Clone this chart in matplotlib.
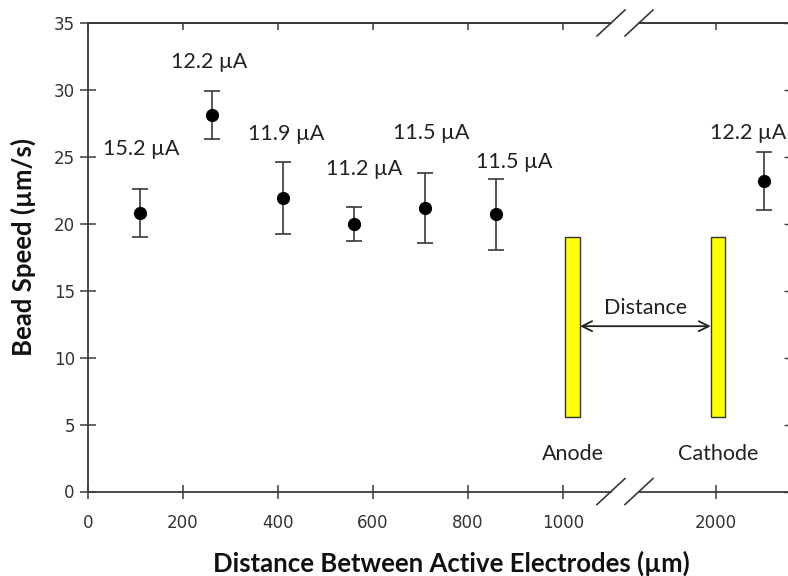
import matplotlib
matplotlib.use("Agg")
import matplotlib.pyplot as plt
from matplotlib.patches import Rectangle, ConnectionPatch

# ----- data -----
distance = [110, 260, 410, 560, 710, 860, 2100]          # um
speed = [20.8, 28.1, 21.9, 20.0, 21.2, 20.7, 23.2]       # um/s
speed_err = [1.8, 1.8, 2.7, 1.25, 2.6, 2.65, 2.2]
current = ["15.2 µA", "12.2 µA", "11.9 µA", "11.2 µA", "11.5 µA", "11.5 µA", "12.2 µA"]

# label positions (data coords), picked by eye
label_x = [112, 255, 418, 582, 722, 897, 2068]
label_y = [25.6, 32.1, 26.7, 24.1, 26.8, 24.6, 26.8]

xticks_left = [0, 200, 400, 600, 800, 1000]
xticks_right = [2000]
yticks = [0, 5, 10, 15, 20, 25, 30, 35]

W, H = 788, 576
GRAY = "#3a3a3a"
LABEL_FONT = ["Lato", "DejaVu Sans"]
ANN_SIZE = 15.5

plt.rcParams["font.family"] = "DejaVu Sans"
plt.rcParams["font.size"] = 12

fig = plt.figure(figsize=(W / 100, H / 100), dpi=100)


def px_box(x0, y0, x1, y1):
    # pixel box (top-left origin) -> figure fraction rect
    return [x0 / W, 1 - y1 / H, (x1 - x0) / W, (y1 - y0) / H]


ax1 = fig.add_axes(px_box(88, 23, 611, 491.5))
ax2 = fig.add_axes(px_box(639, 23, 790, 491.5), sharey=ax1)

ax1.set_xlim(0, (611 - 88) / 0.475)
ax2.set_xlim(2000 - (716 - 639) / 0.475, 2000 + (790 - 716) / 0.475)
ax1.set_ylim(0, 35)

for ax, ticks in ((ax1, xticks_left), (ax2, xticks_right)):
    for s in ax.spines.values():
        s.set_color(GRAY)
        s.set_linewidth(1.3)
    ax.errorbar(distance, speed, yerr=speed_err, fmt="o", color="black",
                ms=8.5, ecolor=GRAY, elinewidth=1.2, capsize=5.5, capthick=1.2)
    ax.set_xticks(ticks)
    ax.tick_params(axis="x", bottom=True, top=False, direction="inout",
                   length=10, width=1.1, color=GRAY, labelsize=12,
                   labelcolor="#333333", pad=11)
    # top ticks point inward only
    top = ax.secondary_xaxis("top")
    top.set_xticks(ticks)
    top.tick_params(direction="in", length=5, width=1.1, color=GRAY,
                    labeltop=False)
    top.spines["top"].set_color(GRAY)
    top.spines["top"].set_linewidth(1.3)

ax1.spines["right"].set_visible(False)
ax2.spines["left"].set_visible(False)

ax1.set_yticks(yticks)
ax1.tick_params(axis="y", left=True, right=False, direction="inout",
                length=11, width=1.1, color=GRAY, labelsize=12,
                labelcolor="#333333", pad=4)
ax2.tick_params(axis="y", left=False, right=True, labelleft=False,
                direction="in", length=4, width=1.0, color=GRAY)

# current labels
for x, y, txt in zip(label_x, label_y, current):
    ax = ax1 if x < 1500 else ax2
    ax.text(x, y, txt, ha="center", va="center", fontsize=ANN_SIZE,
            family=LABEL_FONT, color="#222222", clip_on=False)

# break marks
dx1, dy1 = 14 / 523, 13 / 468.5
dx2 = 14 / 151
for yy in (0, 1):
    ax1.plot([1 - dx1, 1 + dx1], [yy - dy1, yy + dy1], transform=ax1.transAxes,
             color=GRAY, lw=1.2, clip_on=False)
    ax2.plot([-dx2, dx2], [yy - dy1, yy + dy1], transform=ax2.transAxes,
             color=GRAY, lw=1.2, clip_on=False)

# electrode sketch
ax1.add_patch(Rectangle((1004, 5.6), 32, 13.45, facecolor="#ffff00",
                        edgecolor="#333333", lw=1.0, clip_on=False, zorder=3))
ax2.add_patch(Rectangle((1989, 5.6), 30, 13.45, facecolor="#ffff00",
                        edgecolor="#333333", lw=1.0, clip_on=False, zorder=3))
arrow = ConnectionPatch(xyA=(1036, 12.35), coordsA=ax1.transData,
                        xyB=(1989, 12.35), coordsB=ax2.transData,
                        arrowstyle="<->", color="#222222", lw=1.3,
                        shrinkA=0, shrinkB=0, mutation_scale=18)
fig.add_artist(arrow)
fig.text(646 / W, 1 - 308 / H, "Distance", ha="center", va="center",
         fontsize=ANN_SIZE, family=LABEL_FONT, color="#222222")
ax1.text(1020, 2.8, "Anode", ha="center", va="center", fontsize=ANN_SIZE,
         family=LABEL_FONT, color="#222222", clip_on=False)
ax2.text(2004, 2.8, "Cathode", ha="center", va="center", fontsize=ANN_SIZE,
         family=LABEL_FONT, color="#222222", clip_on=False)

# axis titles
ax1.set_ylabel("Bead Speed (µm/s)", fontsize=18.5, fontweight="bold",
               family=LABEL_FONT, color="#111111")
ax1.yaxis.set_label_coords(-0.099, 0.522)
fig.text(451 / W, 4 / H, "Distance Between Active Electrodes (µm)",
         ha="center", va="baseline", fontsize=18.5, fontweight="bold",
         family=LABEL_FONT, color="#111111")

fig.savefig("out.png", dpi=100)
